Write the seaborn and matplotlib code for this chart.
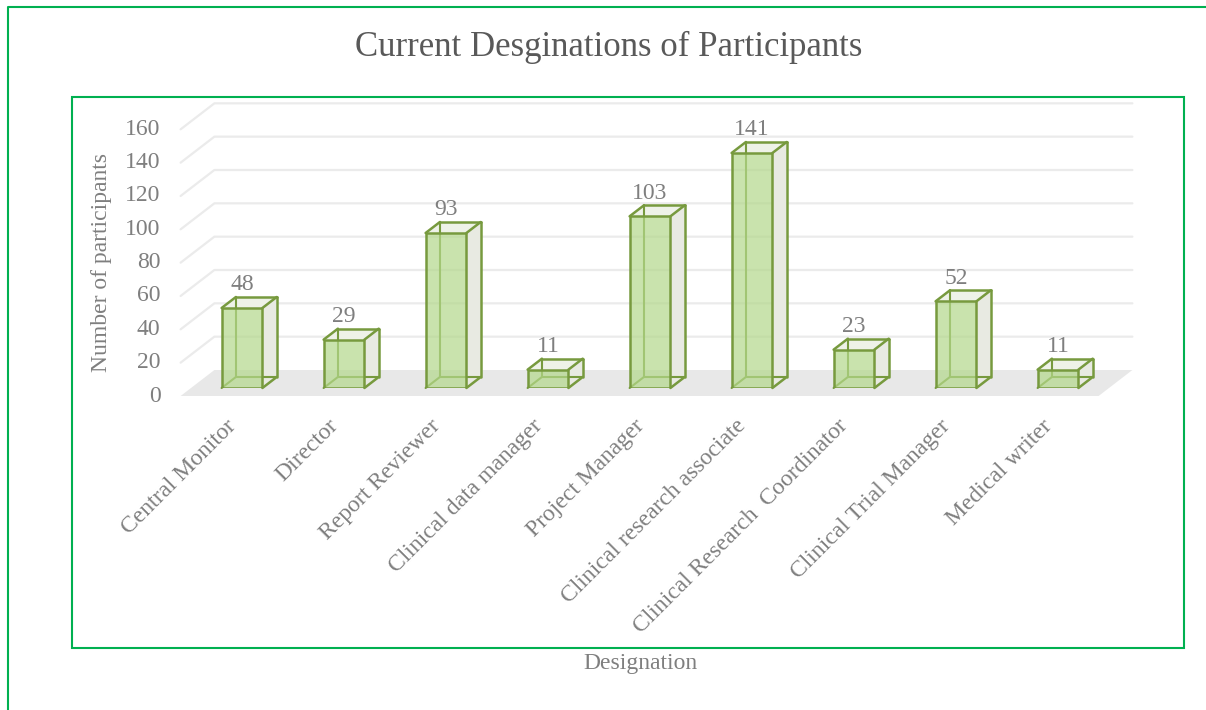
import numpy as np
import pandas as pd
import seaborn as sns
import matplotlib.pyplot as plt
from matplotlib.patches import Polygon, Rectangle
from matplotlib.lines import Line2D
from matplotlib.transforms import IdentityTransform

# ---------------- data ----------------
categories = ["Central Monitor", "Director", "Report Reviewer", "Clinical data manager",
              "Project Manager", "Clinical research associate",
              "Clinical Research  Coordinator", "Clinical Trial Manager", "Medical writer"]
counts = [48, 29, 93, 11, 103, 141, 23, 52, 11]
y_ticks = [0, 20, 40, 60, 80, 100, 120, 140, 160]
title = "Current Desginations of Participants"
x_title = "Designation"
y_title = "Number of participants"

# ---------------- style ----------------
sns.set_theme(style="white")
plt.rcParams["font.family"] = ["Liberation Serif", "DejaVu Serif"]

W, H = 1206, 710
fig = plt.figure(figsize=(W / 100, H / 100), dpi=100)
# axes = front plane of the bars (pixel geometry)
ax_l, ax_r, ax_b, ax_t = 191, 1109, 388, 388 - 266.67
ax = fig.add_axes([ax_l / W, (H - ax_b) / H, (ax_r - ax_l) / W, (ax_b - ax_t) / H])

df = pd.DataFrame({"Designation": categories, "Count": counts})
sns.barplot(data=df, x="Designation", y="Count", ax=ax, width=0.4,
            color="#B3D88A", edgecolor="#779A3E", linewidth=1.8, zorder=4)
ax.set_xlim(-0.5, len(categories) - 0.5)
ax.set_ylim(0, 160)
ax.set_axis_off()

EDGE = "#779A3E"
FACE = (179 / 255, 216 / 255, 138 / 255, 0.7)
GRID = "#EBEBEB"
TXT = "#7F7F7F"
FS = 17

ident = IdentityTransform()


def disp(x, y, dy=0.0, ratio=1.3):
    """data point -> display pixel, shifted in depth by dy px (up = back)."""
    px, py = ax.transData.transform((x, y))
    return (px + dy * ratio, py + dy)


FRONT, BACK = -8, 18
x0, x1 = -0.5, len(categories) - 0.5

# floor
floor = Polygon([disp(x0, 0, FRONT), disp(x1, 0, FRONT), disp(x1, 0, BACK), disp(x0, 0, BACK)],
                closed=True, transform=ident, facecolor="#E8E8E8", edgecolor="none", zorder=1)
fig.add_artist(floor)

# back-wall gridlines and left diagonals + tick labels
for v in y_ticks:
    a, b = disp(x0, v, FRONT), disp(x0, v, BACK)
    c = disp(x1, v, BACK)
    if v > 0:
        fig.add_artist(Line2D([a[0], b[0], c[0]], [a[1], b[1], c[1]], transform=ident,
                              color=GRID, lw=1.6, zorder=1.5))
    fig.text(a[0] - 20, a[1], str(v), transform=ident, ha="right", va="center",
             fontsize=FS, color=TXT)

# 3D boxes
depth = 11
for p, val in zip(ax.patches, counts):
    p.set_facecolor(FACE)
    p.set_edgecolor(EDGE)
    xa, xb, h = p.get_x(), p.get_x() + p.get_width(), p.get_height()
    FLb, FRb, FLt, FRt = disp(xa, 0), disp(xb, 0), disp(xa, h), disp(xb, h)
    BLb, BRb, BLt, BRt = disp(xa, 0, depth), disp(xb, 0, depth), disp(xa, h, depth), disp(xb, h, depth)
    # hidden edges (seen through front face)
    for s, e in [(BLb, BRb), (BLb, BLt), (FLb, BLb)]:
        fig.add_artist(Line2D([s[0], e[0]], [s[1], e[1]], transform=ident, color=EDGE,
                              lw=1.5, zorder=2))
    fig.add_artist(Polygon([FRb, FRt, BRt, BRb], closed=True, transform=ident,
                           facecolor="#E8EAE2", edgecolor="none", zorder=1.8))
    fig.add_artist(Polygon([FLt, FRt, BRt, BLt], closed=True, transform=ident,
                           facecolor="#EEF2E8", edgecolor="none", zorder=1.8))
    for s, e in [(FRt, BRt), (FLt, BLt), (BLt, BRt), (BRt, BRb), (FRb, BRb)]:
        fig.add_artist(Line2D([s[0], e[0]], [s[1], e[1]], transform=ident, color=EDGE,
                              lw=1.8, zorder=5, solid_capstyle="round"))
    cx = (xa + xb) / 2
    lx, ly = disp(cx, h)
    fig.text(lx, ly + 23, str(val), transform=ident, ha="center", va="center",
             fontsize=FS, color=TXT)

ax.set_zorder(3)
ax.patch.set_alpha(0)

# category labels
for i, cat in enumerate(categories):
    px, py = disp(i, 0)
    fig.text(px - 9, py - 35, cat, transform=ident, rotation=45, rotation_mode="anchor",
             ha="right", va="center", fontsize=FS, color=TXT)

# titles
fig.text(609 / W, 1 - 47 / H, title, ha="center", va="center", fontsize=25, color="#595959")
fig.text(102 / W, 1 - 263 / H, y_title, rotation=90, ha="center", va="center",
         fontsize=FS, color=TXT)
fig.text(640 / W, 1 - 663 / H, x_title, ha="center", va="center", fontsize=FS, color=TXT)

# frames
GREEN = "#00B050"
fig.add_artist(Rectangle((72 / W, 1 - 648 / H), (1184 - 72) / W, (648 - 97) / H,
                         transform=fig.transFigure, fill=False, edgecolor=GREEN, lw=1.5))
fig.add_artist(Line2D([8 / W, 8 / W, 1.0], [0.0, 1 - 7 / H, 1 - 7 / H],
                      transform=fig.transFigure, color=GREEN, lw=1.5))

fig.savefig("out.png", dpi=100)
